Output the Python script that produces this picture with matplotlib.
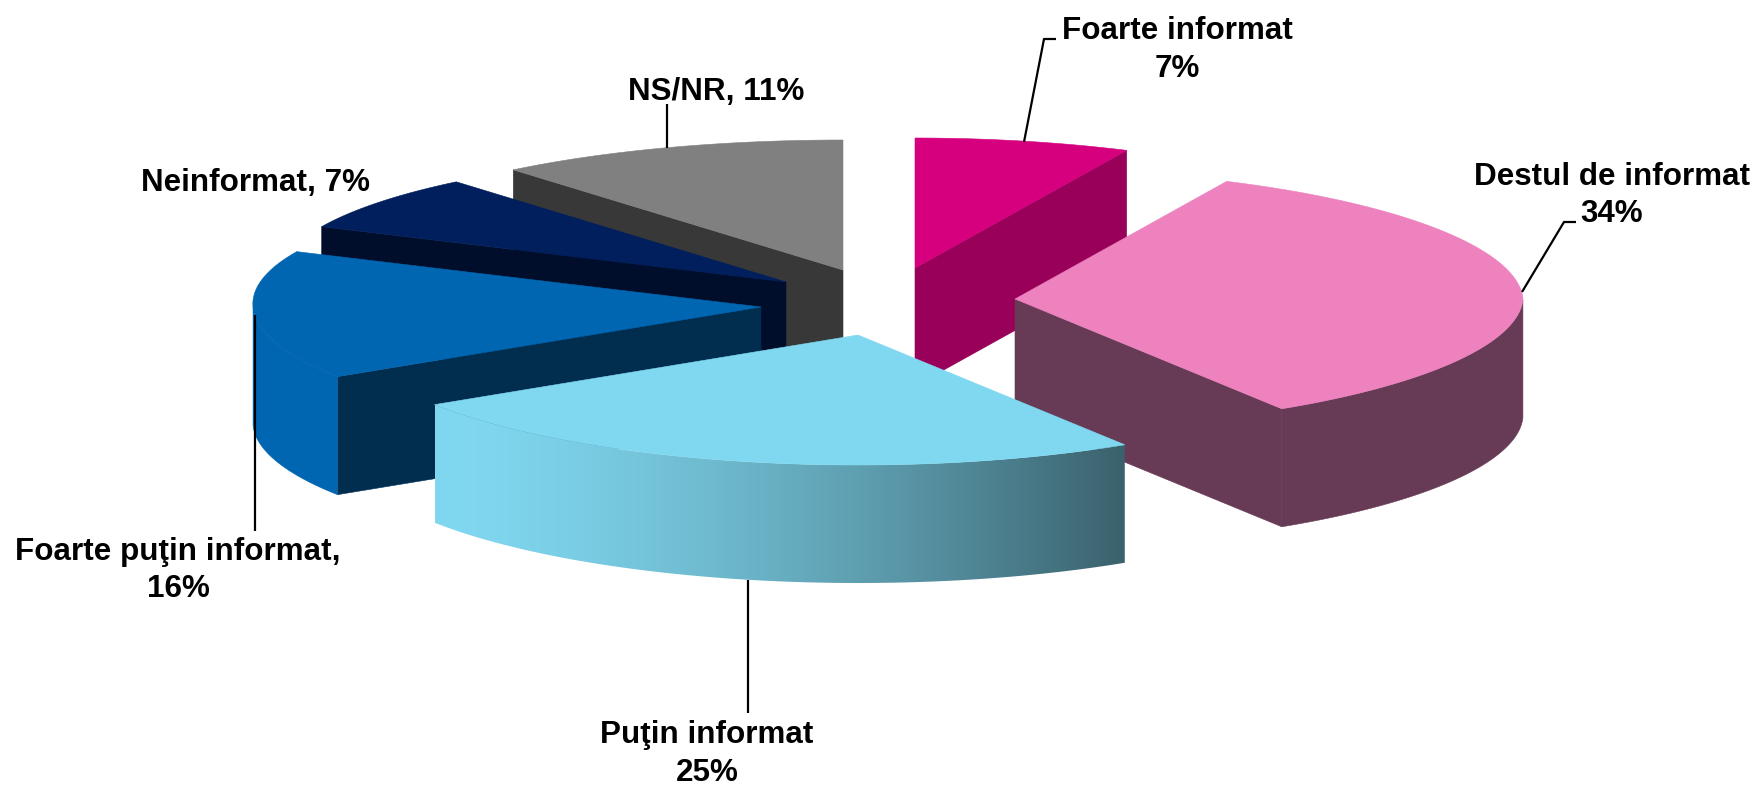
import numpy as np
import matplotlib
matplotlib.use("Agg")
import matplotlib.pyplot as plt
from matplotlib.colors import to_rgb
from matplotlib.patches import Polygon

# ---- data ----
categories = ["Foarte informat", "Destul de informat", "Puţin informat",
              "Foarte puţin informat", "Neinformat", "NS/NR"]
values = [7, 34, 25, 16, 7, 11]

# ---- style ----
top_colors = ["#D6007F", "#ED82BF", "#80D8F0", "#0066B1", "#001F5C", "#808080"]
wall_colors = ["#98005A", "#673A55", "#3A616C", "#012D4F", "#000D2B", "#383838"]
rim_left = ["#98005A", "#673A55", "#80D8F0", "#0066B1", "#000D2B", "#383838"]
rim_right = ["#98005A", "#673A55", "#3A616C", "#0066B1", "#000D2B", "#383838"]

# ---- layout (figure pixels) ----
W, H = 1758, 786
PIE_X, PIE_Y = 850, 270
RX, RY, DEPTH = 508, 130, 118
explode_x = [65, 165, 8, -89, -64, -7]
explode_y = [-2, 29, 65, 37, 12, 0]
draw_order = [5, 4, 3, 0, 1, 2]

# label text layout: centre x, list of baselines, separator between name and value
label_x = [1177, 1612, 707, 178, 256, 716]
label_base = [[39, 77], [185, 222], [743, 781], [560, 597], [191], [100]]
label_sep = ["\n", "\n", "\n", ",\n", ", ", ", "]
leaders = [
    [(1024, 142), (1044, 39), (1056, 39)],
    [(1522, 292), (1564, 222), (1576, 222)],
    [(748.5, 580), (748.5, 713)],
    [(255, 315), (255, 531)],
    None,
    [(667, 104), (667, 148)],
]


def rim_rx(theta):
    """Slight perspective distortion of the projected rim width."""
    s, c = np.sin(theta), np.cos(theta)
    return np.where(s > 0, RX - 12 * np.abs(c), RX + 12 * c)


def rim(theta):
    return rim_rx(theta) * np.sin(theta), -RY * np.cos(theta)


fig = plt.figure(figsize=(W / 100, H / 100), dpi=100, facecolor="white")
ax = fig.add_axes([0, 0, 1, 1])

edges = np.radians(np.concatenate([[0], np.cumsum(values)]) * 3.6)
z = 1
for i in draw_order:
    t0, t1 = edges[i], edges[i + 1]
    cx, cy = PIE_X + explode_x[i], PIE_Y + explode_y[i]
    th = np.linspace(t0, t1, 200)
    xs, ys = rim(th)
    xs, ys = xs + cx, ys + cy

    # radial cut walls that face the viewer
    for t, visible in ((t0, np.sin(t0) < 0), (t1, np.sin(t1) > 0)):
        if visible:
            ex, ey = rim(np.array(t))
            wall = [(cx, cy), (cx + ex, cy + ey), (cx + ex, cy + ey + DEPTH), (cx, cy + DEPTH)]
            ax.add_patch(Polygon(wall, closed=True, fc=wall_colors[i], ec=wall_colors[i], lw=0.4, zorder=z))
            z += 1

    # outer rim, front half only, shaded along x
    front = np.cos(th) < 0
    if front.sum() > 1:
        fx, fy = xs[front], ys[front]
        outline = list(zip(fx, fy)) + list(zip(fx[::-1], fy[::-1] + DEPTH))
        if rim_left[i] == rim_right[i]:
            ax.add_patch(Polygon(outline, closed=True, fc=rim_left[i], ec=rim_left[i], lw=0.4, zorder=z))
        else:
            clip = Polygon(outline, closed=True, transform=ax.transData)
            c0, c1 = np.array(to_rgb(rim_left[i])), np.array(to_rgb(rim_right[i]))
            ramp = np.linspace(0, 1, 256)[None, :, None] ** 1.5
            im = ax.imshow(c0 + (c1 - c0) * ramp,
                           extent=[fx.min(), fx.max(), fy.max() + DEPTH, fy.min()],
                           aspect="auto", interpolation="bilinear", zorder=z)
            im.set_clip_path(clip)
        z += 1

    # top face
    pts = [(cx, cy)] + list(zip(xs, ys))
    ax.add_patch(Polygon(pts, closed=True, fc=top_colors[i], ec=top_colors[i], lw=0.4, zorder=z))
    z += 1

# leader lines
for seg in leaders:
    if seg:
        ax.plot(*zip(*seg), color="black", lw=1.6, zorder=z, solid_capstyle="butt")
z += 1

# labels
for name, v, x, bases, sep in zip(categories, values, label_x, label_base, label_sep):
    for line, y in zip(f"{name}{sep}{v}%".split("\n"), bases):
        ax.text(x, y, line, ha="center", va="baseline", fontsize=22.6,
                family="Liberation Sans", fontweight="bold", color="black", zorder=z)

ax.set_xlim(0, W)
ax.set_ylim(H, 0)
ax.axis("off")
fig.savefig("out.png", dpi=100, facecolor="white")
